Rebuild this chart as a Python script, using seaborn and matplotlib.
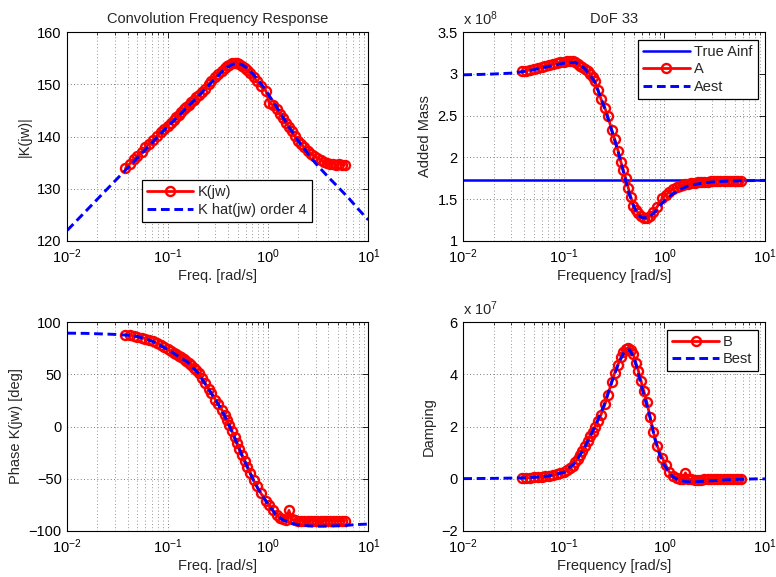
import numpy as np
import matplotlib
matplotlib.use("Agg")
import matplotlib.pyplot as plt
from matplotlib.ticker import FuncFormatter, LogLocator, NullFormatter
import seaborn as sns

# ---------------- data ----------------
# measured frequencies [rad/s]
freq = [0.038, 0.042, 0.046, 0.050, 0.055, 0.060, 0.065, 0.071, 0.078, 0.085,
        0.092, 0.100, 0.107, 0.115, 0.122, 0.129, 0.137, 0.145, 0.153, 0.162,
        0.172, 0.182, 0.193, 0.204, 0.219, 0.234, 0.256, 0.273, 0.299, 0.320,
        0.346, 0.370, 0.390, 0.412, 0.438, 0.465, 0.490, 0.520, 0.550, 0.585,
        0.625, 0.667, 0.719, 0.775, 0.849, 0.953, 1.03, 1.11, 1.22, 1.32,
        1.42, 1.52, 1.62, 1.72, 1.85, 2.00, 2.15, 2.30, 2.50, 2.70,
        2.90, 3.10, 3.35, 3.60, 3.90, 4.20, 4.50, 4.80, 5.10, 5.45, 5.80]

K_mag_db = [133.9, 134.8, 135.6, 136.3, 137.1, 137.9, 138.6, 139.3, 140.1, 140.8,
            141.4, 142.0, 142.6, 143.2, 143.7, 144.2, 144.7, 145.2, 145.6, 146.1,
            146.6, 147.0, 147.5, 148.0, 148.6, 149.2, 150.0, 150.6, 151.4, 152.0,
            152.6, 153.1, 153.5, 153.8, 154.1, 154.2, 154.1, 153.9, 153.6, 153.2,
            152.7, 152.1, 151.4, 150.6, 149.6, 148.8, 146.4, 146.1, 145.2, 144.3,
            143.5, 142.6, 141.8, 141.0, 140.1, 139.2, 138.5, 137.9, 137.2, 136.7,
            136.3, 135.9, 135.5, 135.2, 134.9, 134.8, 134.7, 134.6, 134.7, 134.6, 134.6]

K_phase_deg = [88.2, 87.6, 87.0, 86.3, 85.3, 84.3, 83.2, 81.8, 80.1, 78.3,
               76.3, 74.0, 72.6, 71.0, 69.5, 68.1, 66.6, 65.0, 63.3, 61.3,
               59.0, 56.6, 53.9, 51.2, 46.6, 42.2, 36.2, 31.8, 25.8, 21.3,
               16.2, 11.0, 6.3, 1.0, -4.5, -10.5, -16.0, -22.0, -27.5, -33.0,
               -38.5, -44.5, -51.5, -57.5, -64.0, -71.0, -75.5, -80.5, -85.0, -88.0,
               -89.0, -89.5, -80.5, -89.2, -89.8, -90.2, -90.3, -90.4, -90.5, -90.5,
               -90.4, -90.5, -90.6, -90.5, -90.4, -90.5, -90.6, -90.5, -90.4, -90.3, -90.4]

A_1e8 = [3.03, 3.04, 3.05, 3.06, 3.07, 3.085, 3.10, 3.11, 3.12, 3.13,
         3.14, 3.145, 3.15, 3.152, 3.15, 3.14, 3.125, 3.10, 3.08, 3.06,
         3.04, 3.00, 2.96, 2.91, 2.81, 2.70, 2.59, 2.50, 2.33, 2.22,
         2.08, 1.94, 1.85, 1.75, 1.63, 1.52, 1.42, 1.37, 1.33, 1.30,
         1.27, 1.27, 1.30, 1.35, 1.41, 1.51, 1.55, 1.58, 1.62, 1.64,
         1.655, 1.665, 1.675, 1.68, 1.69, 1.695, 1.70, 1.703, 1.706, 1.709,
         1.711, 1.713, 1.715, 1.716, 1.717, 1.718, 1.719, 1.72, 1.72, 1.721, 1.721]

B_1e7 = [0.02, 0.03, 0.04, 0.05, 0.06, 0.08, 0.09, 0.11, 0.14, 0.17,
         0.21, 0.26, 0.32, 0.41, 0.50, 0.62, 0.76, 0.92, 1.05, 1.24,
         1.43, 1.62, 1.80, 2.00, 2.23, 2.45, 2.85, 3.20, 3.70, 4.05,
         4.38, 4.65, 4.85, 4.97, 5.02, 4.95, 4.78, 4.45, 4.15, 3.75,
         3.35, 2.95, 2.38, 1.80, 1.25, 0.80, 0.53, 0.27, 0.10, 0.03,
         0.00, -0.01, 0.22, 0.00, -0.03, -0.04, -0.04, -0.04, -0.03, -0.03,
         -0.03, -0.02, -0.02, -0.02, -0.02, -0.01, -0.01, -0.01, -0.01, -0.01, -0.01]

# fitted (order 4) model, evaluated on a wider grid
freq_fit = [0.01, 0.015, 0.02, 0.03, 0.04, 0.05, 0.07, 0.1, 0.13, 0.16,
            0.2, 0.25, 0.3, 0.35, 0.4, 0.45, 0.5, 0.55, 0.6, 0.7,
            0.8, 0.9, 1.0, 1.2, 1.4, 1.7, 2.0, 2.5, 3.0, 4.0,
            5.0, 6.5, 8.0, 10.0]

Khat_mag_db = [122.0, 125.5, 128.0, 131.5, 134.0, 135.9, 138.8, 141.9, 144.0, 145.8,
               147.6, 149.6, 151.2, 152.5, 153.4, 153.9, 154.0, 153.8, 153.3, 152.1,
               150.8, 149.5, 148.2, 145.9, 143.8, 141.2, 139.2, 136.7, 134.8, 132.2,
               130.3, 128.0, 126.0, 124.0]

Khat_phase_deg = [89.6, 89.4, 89.0, 88.4, 87.6, 86.4, 82.0, 74.0, 67.0, 61.5,
                  51.5, 37.5, 25.5, 15.0, 3.5, -7.5, -18.0, -27.5, -35.5, -49.5,
                  -60.0, -68.0, -74.5, -84.5, -89.5, -92.8, -94.3, -95.3, -95.7, -95.6,
                  -95.2, -94.6, -94.0, -93.6]

Aest_1e8 = [2.99, 2.995, 3.00, 3.01, 3.03, 3.05, 3.09, 3.13, 3.14, 3.07,
            2.92, 2.62, 2.32, 2.05, 1.78, 1.55, 1.40, 1.31, 1.275, 1.28,
            1.34, 1.42, 1.48, 1.56, 1.61, 1.655, 1.675, 1.695, 1.705, 1.713,
            1.717, 1.72, 1.722, 1.724]

Best_1e7 = [0.0, 0.005, 0.01, 0.02, 0.03, 0.05, 0.10, 0.24, 0.62, 1.18,
            1.93, 2.80, 3.72, 4.42, 4.88, 4.95, 4.62, 4.05, 3.45, 2.55,
            1.55, 0.90, 0.50, 0.08, -0.07, -0.12, -0.12, -0.10, -0.08, -0.05,
            -0.03, -0.02, -0.01, -0.01]

A_inf_1e8 = 1.728

# ---------------- style ----------------
sns.set_theme(style="white")
plt.rcParams["font.family"] = ["Liberation Sans", "DejaVu Sans"]
plt.rcParams["mathtext.fontset"] = "custom"
plt.rcParams["mathtext.rm"] = "Liberation Sans"
plt.rcParams["mathtext.it"] = "Liberation Sans:italic"
plt.rcParams["axes.unicode_minus"] = True

FS = 10.5
red_kw = dict(color="red", lw=2.0, marker="o", ms=6.5, mfc="none", mec="red", mew=1.7)
blue_kw = dict(color="blue", lw=2.1, linestyle=(0, (3, 1.6)))

fig = plt.figure(figsize=(7.76, 5.77), dpi=100)
ax_k = fig.add_axes([0.0867, 0.5828, 0.3879, 0.3612])
ax_a = fig.add_axes([0.5970, 0.5828, 0.3888, 0.3612])
ax_p = fig.add_axes([0.0867, 0.0802, 0.3879, 0.3612])
ax_b = fig.add_axes([0.5970, 0.0802, 0.3888, 0.3612])


def fmt_num(v, pos):
    return f"{v:g}".replace("-", "\u2212")


def style(ax, ylim, yticks):
    ax.set_xscale("log")
    ax.set_xlim(0.01, 10)
    ax.set_ylim(*ylim)
    ax.set_yticks(yticks)
    ax.yaxis.set_major_formatter(FuncFormatter(fmt_num))
    ax.xaxis.set_major_locator(LogLocator(base=10, numticks=10))
    ax.xaxis.set_minor_locator(LogLocator(base=10, subs=np.arange(2, 10), numticks=20))
    ax.xaxis.set_minor_formatter(NullFormatter())
    ax.tick_params(which="both", direction="in", top=True, right=True,
                   labelsize=FS, colors="black")
    ax.tick_params(axis="y", pad=4)
    ax.tick_params(axis="x", pad=5)
    ax.tick_params(which="major", length=4, width=0.6)
    ax.tick_params(which="minor", length=2, width=0.5)
    ax.grid(True, which="major", linestyle=(0, (1, 3)), lw=0.6, color="0.3")
    ax.grid(True, which="minor", axis="x", linestyle=(0, (1, 3)), lw=0.6, color="0.45")
    for s in ax.spines.values():
        s.set_color("black")
        s.set_linewidth(0.8)


def legend(ax, **kw):
    opts = dict(fontsize=FS, frameon=True, fancybox=False, edgecolor="black",
                framealpha=1, handlelength=3.2, borderpad=0.35, labelspacing=0.25,
                handletextpad=0.3, borderaxespad=0.5)
    opts.update(kw)
    lg = ax.legend(**opts)
    lg.get_frame().set_linewidth(0.9)
    return lg


# |K(jw)|
sns.lineplot(x=freq, y=K_mag_db, ax=ax_k, estimator=None, label="K(jw)", **red_kw)
sns.lineplot(x=freq_fit, y=Khat_mag_db, ax=ax_k, estimator=None,
             label="K hat(jw) order 4", **blue_kw)
style(ax_k, (120, 160), [120, 130, 140, 150, 160])
ax_k.set_title("Convolution Frequency Response", fontsize=FS, pad=7)
ax_k.set_xlabel("Freq. [rad/s]", fontsize=FS, labelpad=2)
ax_k.set_ylabel("|K(jw)|", fontsize=FS)
legend(ax_k, loc="lower left", bbox_to_anchor=(0.247, 0.09), borderaxespad=0)

# Added mass
ax_a.axhline(A_inf_1e8, color="blue", lw=1.8, label="True Ainf")
sns.lineplot(x=freq, y=A_1e8, ax=ax_a, estimator=None, label="A", **red_kw)
sns.lineplot(x=freq_fit, y=Aest_1e8, ax=ax_a, estimator=None, label="Aest", **blue_kw)
style(ax_a, (1, 3.5), [1, 1.5, 2, 2.5, 3, 3.5])
ax_a.set_title("DoF 33", fontsize=FS, pad=7)
ax_a.set_xlabel("Frequency [rad/s]", fontsize=FS, labelpad=2)
ax_a.set_ylabel("Added Mass", fontsize=FS)
ax_a.text(0.0, 1.02, r"x 10$^{8}$", transform=ax_a.transAxes, ha="left",
          va="bottom", fontsize=FS)
legend(ax_a, loc="upper right")

# Phase
sns.lineplot(x=freq, y=K_phase_deg, ax=ax_p, estimator=None, **red_kw)
sns.lineplot(x=freq_fit, y=Khat_phase_deg, ax=ax_p, estimator=None, **blue_kw)
style(ax_p, (-100, 100), [-100, -50, 0, 50, 100])
ax_p.set_xlabel("Freq. [rad/s]", fontsize=FS, labelpad=2)
ax_p.set_ylabel("Phase K(jw) [deg]", fontsize=FS)
if ax_p.get_legend() is not None:
    ax_p.get_legend().remove()

# Damping
sns.lineplot(x=freq, y=B_1e7, ax=ax_b, estimator=None, label="B", **red_kw)
sns.lineplot(x=freq_fit, y=Best_1e7, ax=ax_b, estimator=None, label="Best", **blue_kw)
style(ax_b, (-2, 6), [-2, 0, 2, 4, 6])
ax_b.set_xlabel("Frequency [rad/s]", fontsize=FS, labelpad=2)
ax_b.set_ylabel("Damping", fontsize=FS)
ax_b.text(0.0, 1.02, r"x 10$^{7}$", transform=ax_b.transAxes, ha="left",
          va="bottom", fontsize=FS)
legend(ax_b, loc="upper right")

fig.savefig("out.png", dpi=100)
